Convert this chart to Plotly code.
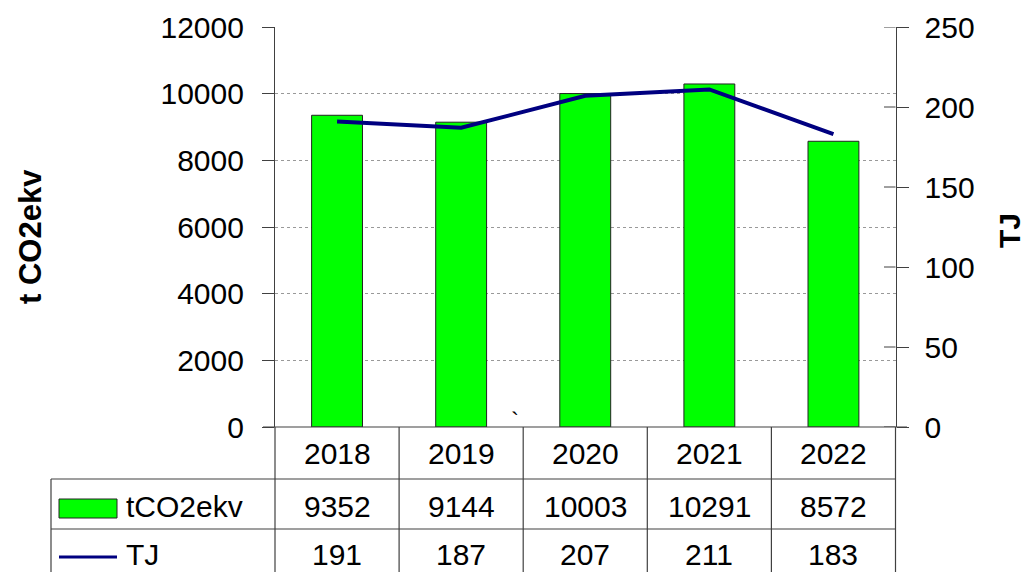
import plotly.graph_objects as go

# ---- data ----
years = ["2018", "2019", "2020", "2021", "2022"]
tco2 = [9352, 9144, 10003, 10291, 8572]
tj = [191, 187, 207, 211, 183]
series_names = ["tCO2ekv", "TJ"]
left_title = "t CO2ekv"
right_title = "TJ"
left_ticks = [0, 2000, 4000, 6000, 8000, 10000, 12000]
right_ticks = [0, 50, 100, 150, 200, 250]

W, H = 1028, 572
FONT = "Liberation Sans, Arial, sans-serif"
GREEN = "#00FF00"
NAVY = "#000080"
LINEC = "#404040"

def px(x):
    return x / W

def py(y):
    return 1 - y / H

# plot area in pixels
L, R, T, B = 275, 895.5, 27, 427
row_tops = [427, 479, 529]
row_bottom = 590
legend_left = 51

fig = go.Figure()
fig.add_trace(go.Bar(
    x=years, y=tco2, name=series_names[0],
    marker=dict(color=GREEN, line=dict(color="#222222", width=1)),
    yaxis="y", showlegend=False,
))
fig.add_trace(go.Scatter(
    x=years, y=tj, name=series_names[1], mode="lines",
    line=dict(color=NAVY, width=4), yaxis="y2", showlegend=False,
))

shapes = []
annotations = []

# right-axis ticks crossing inward
for v in right_ticks:
    shapes.append(dict(type="line", xref="paper", yref="y2",
                       x0=px(884), x1=px(R), y0=v, y1=v,
                       line=dict(color=LINEC, width=1)))

# table lines
shapes.append(dict(type="line", xref="paper", yref="paper",
                   x0=px(263), x1=px(907), y0=py(B), y1=py(B),
                   line=dict(color=LINEC, width=1.2)))
for yy in row_tops[1:]:
    shapes.append(dict(type="line", xref="paper", yref="paper",
                       x0=px(legend_left), x1=px(R), y0=py(yy), y1=py(yy),
                       line=dict(color=LINEC, width=1.2)))
ncat = len(years)
cw = (R - L) / ncat
for k in range(ncat + 1):
    xx = L + k * cw
    shapes.append(dict(type="line", xref="paper", yref="paper",
                       x0=px(xx), x1=px(xx), y0=py(B), y1=py(row_bottom),
                       line=dict(color=LINEC, width=1.2)))
shapes.append(dict(type="line", xref="paper", yref="paper",
                   x0=px(legend_left), x1=px(legend_left),
                   y0=py(row_tops[1]), y1=py(row_bottom),
                   line=dict(color=LINEC, width=1.2)))

# legend keys
shapes.append(dict(type="rect", xref="paper", yref="paper",
                   x0=px(59), x1=px(117), y0=py(518), y1=py(499),
                   fillcolor=GREEN, line=dict(color="#222222", width=1)))
shapes.append(dict(type="line", xref="paper", yref="paper",
                   x0=px(59), x1=px(117), y0=py(557), y1=py(557),
                   line=dict(color=NAVY, width=3)))

tfont = dict(family=FONT, size=30, color="#000000")
row_centers = [453, 506, 554]
for i, yr in enumerate(years):
    for r, txt in enumerate([yr, str(tco2[i]), str(tj[i])]):
        annotations.append(dict(x=i, y=py(row_centers[r]), xref="x", yref="paper",
                                text=txt, showarrow=False, font=tfont,
                                xanchor="center", yanchor="middle"))
annotations.append(dict(x=px(124), y=py(row_centers[1]), xref="paper", yref="paper",
                        text=series_names[0], showarrow=False, font=tfont,
                        xanchor="left", yanchor="middle"))
annotations.append(dict(x=px(124), y=py(row_centers[2]), xref="paper", yref="paper",
                        text=series_names[1], showarrow=False, font=tfont,
                        xanchor="left", yanchor="middle"))

# axis titles
annotations.append(dict(x=px(30), y=py(237), xref="paper", yref="paper",
                        text="<b>%s</b>" % left_title, showarrow=False, textangle=-90,
                        font=dict(family=FONT, size=31, color="#000000"),
                        xanchor="center", yanchor="middle"))
annotations.append(dict(x=px(1009), y=py(231), xref="paper", yref="paper",
                        text="<b>%s</b>" % right_title, showarrow=False, textangle=-90,
                        font=dict(family=FONT, size=30, color="#000000"),
                        xanchor="center", yanchor="middle"))
# stray mark in original
annotations.append(dict(x=px(515), y=py(420), xref="paper", yref="paper",
                        text="`", showarrow=False,
                        font=dict(family=FONT, size=24, color="#000000"),
                        xanchor="center", yanchor="middle"))

axfont = dict(family=FONT, size=30, color="#000000")
fig.update_layout(
    width=W, height=H,
    margin=dict(l=0, r=0, t=0, b=0, autoexpand=False),
    paper_bgcolor="white", plot_bgcolor="white",
    bargap=0.59,
    xaxis=dict(domain=[px(L), px(R)], type="category", range=[-0.5, 4.5],
               showticklabels=False, ticks="", showgrid=False,
               showline=False, zeroline=False, fixedrange=True,
               automargin=False),
    yaxis=dict(range=[0, 12000], tickvals=left_ticks, tickformat="d",
               ticks="outside", ticklen=12, tickcolor=LINEC, showline=True,
               linecolor=LINEC, linewidth=1.2, showgrid=True,
               gridcolor="#999999", griddash="dot", gridwidth=1,
               zeroline=False, tickfont=axfont, ticklabelstandoff=12,
               automargin=False, domain=[py(B), py(T)]),
    yaxis2=dict(range=[0, 250], tickvals=right_ticks, tickformat="d",
                ticks="outside", ticklen=12, tickcolor=LINEC, showline=True,
                linecolor=LINEC, linewidth=1.2, showgrid=False,
                zeroline=False, overlaying="y", side="right", anchor="x",
                tickfont=axfont, ticklabelstandoff=10, automargin=False),
    shapes=shapes, annotations=annotations,
)

fig.write_html("out.html", config={"displayModeBar": False},
               post_script="document.body.style.margin='0';document.body.style.overflow='hidden';")
